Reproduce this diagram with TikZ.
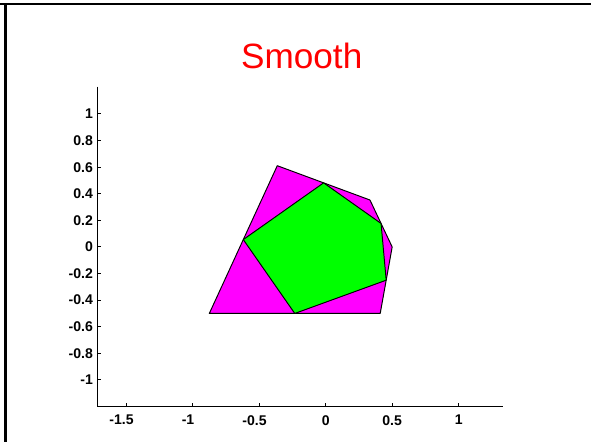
\documentclass[tikz,border=0pt]{standalone}
\usepackage{fontspec}
\setmainfont{Liberation Sans}
\usetikzlibrary{calc}
\definecolor{polymagenta}{RGB}{255,0,255}
\definecolor{polygreen}{RGB}{0,255,0}
\begin{document}
\begin{tikzpicture}[x=2.66cm, y=2.66cm,
    axisline/.style={line width=0.6pt},
    ticklabel/.style={font=\fontsize{8}{9}\selectfont\bfseries, inner sep=1pt},
    polyline/.style={draw=black, line width=0.55pt, line join=round}]
    \useasboundingbox (-2.449,-1.466) rectangle (1.995,1.857);

    % frame
    \draw [line width=2pt] (-2.409,-1.466) -- (-2.409,1.838);
    \draw [line width=1.4pt] (-2.449,1.828) -- (1.995,1.828);

    \node [text=red, font=\fontsize{20}{24}\selectfont] (title) at (-0.18,1.436) {Smooth};

    % axes
    \coordinate (origin) at (-1.717,-1.203);
    \coordinate (xend) at (1.33,-1.203);
    \coordinate (yend) at (-1.717,1.205);
    \draw [axisline] (yend) -- (origin) -- (xend);
    \foreach \x in {0,0.5,1} {
        \draw [axisline] (\x,-1.203) -- (\x,-1.173);
        \node [ticklabel, anchor=north] (xl\x) at (\x,-1.25) {\x};
    }
    \foreach \x in {-1.5,-1,-0.5} {
        \draw [axisline] (\x,-1.203) -- (\x,-1.173);
        \node [ticklabel, anchor=north] (xl\x) at (\x-0.035,-1.25) {\x};
    }
    \foreach \y in {-1,-0.8,-0.6,-0.4,-0.2,0,0.2,0.4,0.6,0.8,1} {
        \draw [axisline] (-1.717,\y) -- (-1.687,\y);
        \node [ticklabel, anchor=east] (yl\y) at (-1.735,\y) {\y};
    }

    % polygon and its smoothed version
    \coordinate (p1) at (-0.364,0.611);
    \coordinate (p2) at (0.333,0.353);
    \coordinate (p3) at (0.5,0);
    \coordinate (p4) at (0.41,-0.5);
    \coordinate (p5) at (-0.875,-0.5);
    \coordinate (m1) at ($(p1)!0.5!(p2)$);
    \coordinate (m2) at ($(p2)!0.5!(p3)$);
    \coordinate (m3) at ($(p3)!0.5!(p4)$);
    \coordinate (m4) at ($(p4)!0.5!(p5)$);
    \coordinate (m5) at ($(p5)!0.5!(p1)$);

    \filldraw [polyline, fill=polymagenta] (p1) -- (p2) -- (p3) -- (p4) -- (p5) -- cycle;
    \filldraw [polyline, fill=polygreen] (m1) -- (m2) -- (m3) -- (m4) -- (m5) -- cycle;
\end{tikzpicture}
\end{document}
